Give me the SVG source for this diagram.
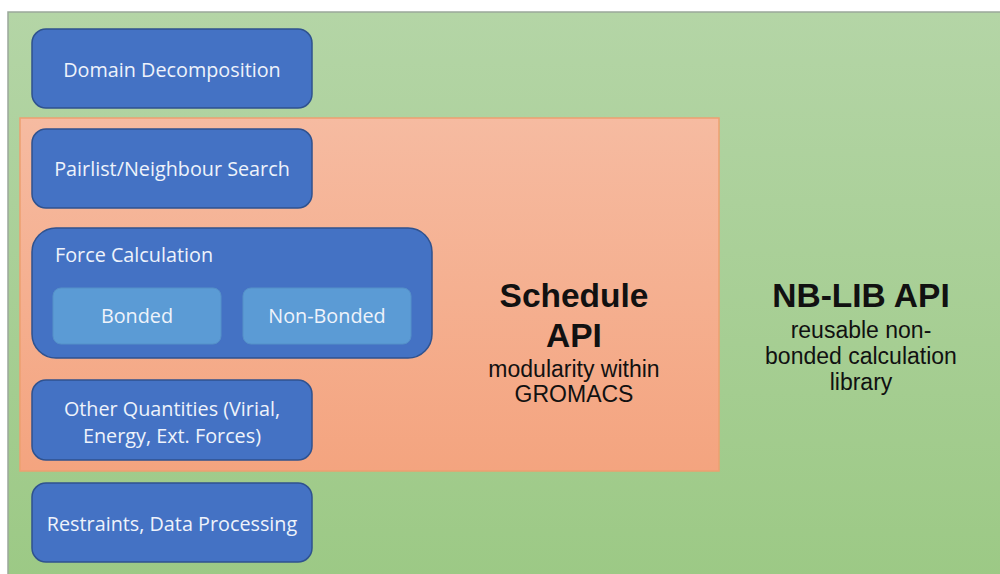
<svg xmlns="http://www.w3.org/2000/svg" width="1000" height="574" viewBox="0 0 1000 574">
<defs>
<linearGradient id="gG" x1="0" y1="0" x2="0" y2="1"><stop offset="0" stop-color="#b4d5a6"/><stop offset="1" stop-color="#9cc985"/></linearGradient>
<linearGradient id="gO" x1="0" y1="0" x2="0" y2="1"><stop offset="0" stop-color="#f6bba1"/><stop offset="1" stop-color="#f4a47f"/></linearGradient>
<style>
.blue{fill:#4472c4;stroke:#2f528f;stroke-width:1.5}
.inner{fill:#5b9bd5;stroke:#5590c8;stroke-width:1}
.lbl{font-family:"Open Sans","Noto Sans",sans-serif;font-size:19.8px;fill:#eef3fb;text-anchor:middle}
.big{font-family:"Liberation Sans",Arial,sans-serif;font-weight:bold;font-size:33.5px;fill:#111;text-anchor:middle}
.sub{font-family:"Liberation Sans",Arial,sans-serif;font-size:23px;fill:#111;text-anchor:middle}
</style>
</defs>
<rect width="1000" height="574" fill="#ffffff"/>
<g id="nblib">
<rect x="8" y="12" width="1000" height="570" fill="url(#gG)" stroke="#9aa89a" stroke-width="1.5"/>
<text class="big" x="861" y="307">NB-LIB API</text>
<text class="sub" x="861" y="338">reusable non-</text>
<text class="sub" x="861" y="364">bonded calculation</text>
<text class="sub" x="861" y="390">library</text>
</g>
<g id="schedule">
<rect x="20" y="118" width="699" height="353" fill="url(#gO)" stroke="#eda070" stroke-width="1.5"/>
<text class="big" x="574" y="307">Schedule</text>
<text class="big" x="574" y="347">API</text>
<text class="sub" x="574" y="377">modularity within</text>
<text class="sub" x="574" y="402">GROMACS</text>
</g>
<g id="domain">
<rect class="blue" x="32" y="29" width="280" height="79" rx="14"/>
<text class="lbl" x="172" y="77">Domain Decomposition</text>
</g>
<g id="pairlist">
<rect class="blue" x="32" y="129" width="280" height="79" rx="14"/>
<text class="lbl" x="172" y="176">Pairlist/Neighbour Search</text>
</g>
<g id="force">
<rect class="blue" x="32" y="228" width="400" height="130" rx="24"/>
<text class="lbl" x="55" y="262" style="text-anchor:start">Force Calculation</text>
<g id="bonded">
<rect class="inner" x="53" y="288" width="168" height="56" rx="8"/>
<text class="lbl" x="137" y="323">Bonded</text>
</g>
<g id="nonbonded">
<rect class="inner" x="243" y="288" width="168" height="56" rx="8"/>
<text class="lbl" x="327" y="323">Non-Bonded</text>
</g>
</g>
<g id="other">
<rect class="blue" x="32" y="380" width="280" height="80" rx="14"/>
<text class="lbl" x="172" y="416">Other Quantities (Virial,</text>
<text class="lbl" x="172" y="443">Energy, Ext. Forces)</text>
</g>
<g id="restraints">
<rect class="blue" x="32" y="483" width="280" height="79" rx="14"/>
<text class="lbl" x="172" y="531">Restraints, Data Processing</text>
</g>
<g id="connectors"/>
</svg>
